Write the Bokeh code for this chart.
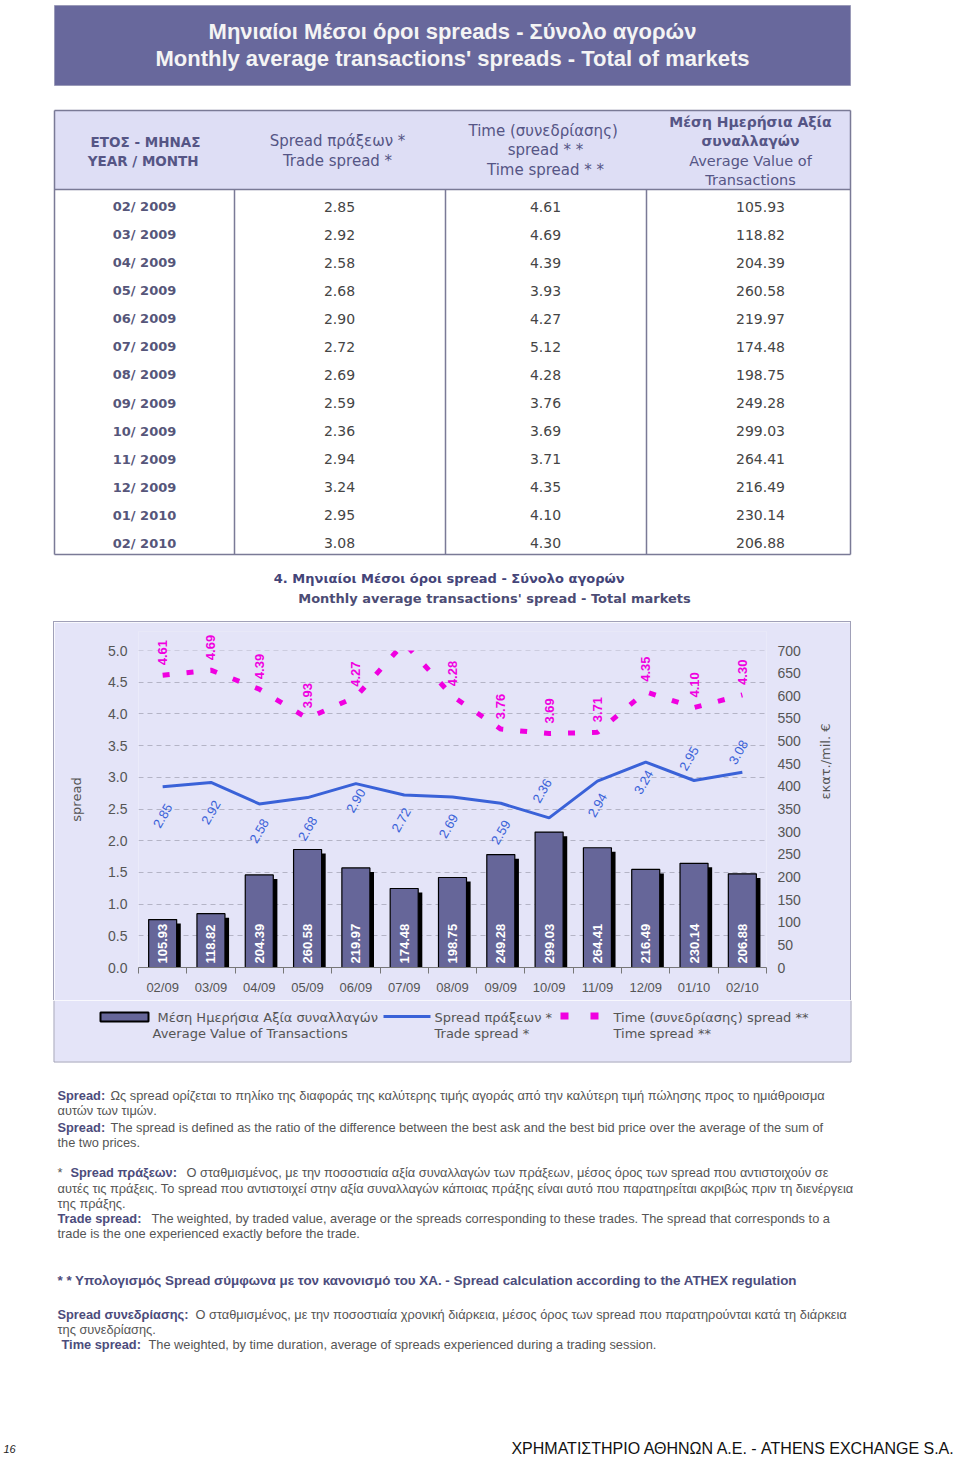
import math
from bokeh.plotting import figure
from bokeh.models import (Range1d, LinearAxis, ColumnDataSource, LabelSet, FixedTicker,
                          SingleIntervalTicker, NumeralTickFormatter, Spacer, BoxAnnotation)
from bokeh.layouts import column, row
from bokeh.transform import dodge
from bokeh.core.properties import value
from bokeh.embed import file_html
from bokeh.resources import INLINE

# ---------------- data ----------------
periods = ["02/ 2009", "03/ 2009", "04/ 2009", "05/ 2009", "06/ 2009", "07/ 2009", "08/ 2009",
           "09/ 2009", "10/ 2009", "11/ 2009", "12/ 2009", "01/ 2010", "02/ 2010"]
month_labels = ["02/09", "03/09", "04/09", "05/09", "06/09", "07/09", "08/09",
                "09/09", "10/09", "11/09", "12/09", "01/10", "02/10"]
trade_spread = [2.85, 2.92, 2.58, 2.68, 2.90, 2.72, 2.69, 2.59, 2.36, 2.94, 3.24, 2.95, 3.08]
time_spread = [4.61, 4.69, 4.39, 3.93, 4.27, 5.12, 4.28, 3.76, 3.69, 3.71, 4.35, 4.10, 4.30]
avg_value = [105.93, 118.82, 204.39, 260.58, 219.97, 174.48, 198.75, 249.28, 299.03,
             264.41, 216.49, 230.14, 206.88]

# label placement (style only, pixels)
trade_lbl_dx = [0, 0, 0, 0, 0, -3, -4, 0, -7, 0, -2, -5, -4]
trade_lbl_dy = [-29, -30, -27, -31, -17, -25, -29, -29, 27, -24, -20, 22, 20]

# ---------------- styles ----------------
LAV = "#e4e4f8"
BAR = "#666699"
NAVY = "#555585"
BLUE = "#3a62d8"
MAG = "#f000e0"
GRAY = "#555555"
PANEL_LINE = "#a0a0b8"


def put(p, x, y, s, size=13, color=GRAY, font="DejaVu Sans", style="normal",
        align="left", baseline="middle"):
    p.text(x=[x], y=[y], text=[s], text_font=value(font), text_font_size=f"{size}px",
           text_color=color, text_font_style=style, text_align=align,
           text_baseline=baseline)


def pixel_fig(w, h, x0, x1, ytop, ybot, bg="white"):
    f = figure(width=w, height=h, x_range=Range1d(x0, x1), y_range=Range1d(ybot, ytop),
               x_axis_type=None, y_axis_type=None, min_border=0, outline_line_color=None,
               background_fill_color=bg, border_fill_color=bg,
               output_backend="svg", toolbar_location=None)
    return f


# ---------------- top: banner + table + chart title ----------------
top = pixel_fig(960, 621, 0, 960, 0, 621)
top.quad(left=54, right=850, top=5, bottom=85, fill_color="#68689c", line_color="#9a9ab8")
put(top, 452, 31, "Μηνιαίοι Μέσοι όροι spreads - Σύνολο αγορών", 22, "#f4f4f4",
    "Liberation Sans", "bold", "center")
put(top, 452, 58, "Monthly average transactions' spreads - Total of markets", 22, "#f4f4f4",
    "Liberation Sans", "bold", "center")

# table
TL = "#7a7a96"
top.quad(left=54, right=850, top=110, bottom=189, fill_color="#dedef5", line_color=None)
top.segment(x0=[54, 54, 54, 54, 850], y0=[110, 189, 554, 110, 110],
            x1=[850, 850, 850, 54, 850], y1=[110, 189, 554, 554, 554],
            line_color=TL, line_width=1.5)
top.segment(x0=[234, 445, 646], y0=[189] * 3, x1=[234, 445, 646], y1=[554] * 3,
            line_color=TL, line_width=1.5)

put(top, 145, 141, "ΕΤΟΣ - ΜΗΝΑΣ", 13.5, NAVY, style="bold", align="center")
put(top, 145, 160, "YEAR /  MONTH", 13.5, NAVY, style="bold", align="center")
put(top, 337, 140, "Spread πράξεων *", 15, NAVY, align="center")
put(top, 337, 160, "Trade spread *", 15, NAVY, align="center")
put(top, 545, 130, "Time  (συνεδρίασης)", 15, NAVY, align="center")
put(top, 545, 149, "spread * *", 15, NAVY, align="center")
put(top, 545, 169, "Time spread * *", 15, NAVY, align="center")
put(top, 750, 121, "Μέση Ημερήσια Αξία", 14, NAVY, style="bold", align="center")
put(top, 750, 140, "συναλλαγών", 14, NAVY, style="bold", align="center")
put(top, 750, 160, "Average Value of", 14.5, NAVY, align="center")
put(top, 750, 179, "Transactions", 14.5, NAVY, align="center")

row_y = [206 + 28.08 * i for i in range(len(periods))]
tsrc = ColumnDataSource(dict(
    y=row_y, per=periods,
    tr=[f"{v:.2f}" for v in trade_spread],
    ti=[f"{v:.2f}" for v in time_spread],
    av=[f"{v:.2f}" for v in avg_value],
    x1=[144] * len(periods), x2=[339] * len(periods), x3=[545] * len(periods),
    x4=[760] * len(periods)))
top.text(x="x1", y="y", text="per", source=tsrc, text_font=value("DejaVu Sans"),
         text_font_size="13px", text_font_style="bold", text_color="#56567a",
         text_align="center", text_baseline="middle")
for xc, col in (("x2", "tr"), ("x3", "ti"), ("x4", "av")):
    top.text(x=xc, y="y", text=col, source=tsrc, text_font=value("DejaVu Sans"),
             text_font_size="14px", text_color="#454545",
             text_align="center", text_baseline="middle")

put(top, 451, 578, "4.  Μηνιαίοι Μέσοι όροι spread - Σύνολο αγορών", 13, "#444478",
    style="bold", align="center")
put(top, 494, 598, "Monthly average transactions' spread - Total markets", 13, "#4c4c74",
    style="bold", align="center")

# ---------------- chart ----------------
n = len(month_labels)
xs = [i + 0.5 for i in range(n)]
src = ColumnDataSource(dict(
    x=xs, trade=trade_spread, time=time_spread, val=avg_value,
    shadow_top=[v - 9 for v in avg_value], zero=[0] * n,
    val_lbl=[f"{v:.2f}" for v in avg_value],
    trade_lbl=[f"{v:.2f}" for v in trade_spread],
    tdx=trade_lbl_dx, tdy=trade_lbl_dy))

SPREAD_MAX = 5.0          # top of the spread scale (last gridline)
Y_TOP = 5.3               # headroom above the scale for the value labels
c = figure(width=796, height=378, x_range=Range1d(0, n), y_range=Range1d(0, Y_TOP),
           min_border_left=84, min_border_right=84, min_border_top=9, min_border_bottom=33,
           background_fill_color=LAV, border_fill_color=LAV, outline_line_color=None,
           output_backend="svg", toolbar_location=None)
c.extra_y_ranges = {"val": Range1d(0, 700 * Y_TOP / SPREAD_MAX)}

c.xgrid.visible = False
c.ygrid.grid_line_color = "#b4b4c6"
c.ygrid.grid_line_dash = "5 4"

ya = c.yaxis[0]
ya.ticker = SingleIntervalTicker(interval=0.5, num_minor_ticks=0)
ya.formatter = NumeralTickFormatter(format="0.0")
ya.axis_line_color = None
ya.major_tick_line_color = None
ya.minor_tick_line_color = None
ya.major_tick_out = 0
ya.major_label_standoff = 11
ya.major_label_text_font = "Liberation Sans"
ya.major_label_text_font_size = "14px"
ya.major_label_text_color = GRAY
ya.axis_label = "spread"
ya.axis_label_standoff = 21
ya.axis_label_text_font = "DejaVu Sans"
ya.axis_label_text_font_size = "13px"
ya.axis_label_text_font_style = "normal"
ya.axis_label_text_color = GRAY

ra = LinearAxis(y_range_name="val",
                ticker=SingleIntervalTicker(interval=50, num_minor_ticks=0),
                formatter=NumeralTickFormatter(format="0"))
ra.axis_line_color = None
ra.major_tick_line_color = None
ra.minor_tick_line_color = None
ra.major_tick_out = 0
ra.major_label_standoff = 11
ra.major_label_text_font = "Liberation Sans"
ra.major_label_text_font_size = "14px"
ra.major_label_text_color = GRAY
ra.axis_label = "εκατ./mil. €"
ra.axis_label_standoff = 22
ra.axis_label_orientation = math.pi / 2
ra.axis_label_text_font = "DejaVu Sans"
ra.axis_label_text_font_size = "13px"
ra.axis_label_text_font_style = "normal"
ra.axis_label_text_color = GRAY
c.add_layout(ra, "right")

xa = c.xaxis[0]
xa.ticker = FixedTicker(ticks=xs, minor_ticks=list(range(n + 1)))
xa.major_label_overrides = {x: lab for x, lab in zip(xs, month_labels)}
xa.major_tick_line_color = None
xa.major_tick_out = 5
xa.minor_tick_in = 0
xa.minor_tick_out = 6
xa.minor_tick_line_color = "#777777"
xa.axis_line_color = "#777777"
xa.major_label_standoff = 6
xa.major_label_text_font = "Liberation Sans"
xa.major_label_text_font_size = "13px"
xa.major_label_text_color = GRAY

# bars with shadow
c.vbar(x=dodge("x", 0.085), top="shadow_top", width=0.58, y_range_name="val",
       fill_color="black", line_color=None, source=src)
c.vbar(x="x", top="val", width=0.58, y_range_name="val", fill_color=BAR,
       line_color="black", line_width=1.2, source=src)

# lines
c.line("x", "trade", source=src, line_color=BLUE, line_width=3)
c.line("x", "time", source=src, line_color=MAG, line_width=5, line_dash="7 17")

# the plot area ends at the top of the scale: mask the headroom strip
c.add_layout(BoxAnnotation(bottom=SPREAD_MAX, fill_color=LAV, fill_alpha=1.0,
                           line_color=None))

# labels
c.add_layout(LabelSet(x="x", y="zero", text="val_lbl", source=src, y_range_name="val",
                      angle=math.pi / 2, text_align="left", text_baseline="middle",
                      y_offset=4, text_color="white", text_font=value("Liberation Sans"),
                      text_font_style="bold", text_font_size="13px"))
c.add_layout(LabelSet(x="x", y="trade", text="trade_lbl", source=src,
                      angle=math.pi / 3, text_align="center", text_baseline="middle",
                      x_offset="tdx", y_offset="tdy", text_color=BLUE,
                      text_font=value("Liberation Sans"), text_font_size="13px"))
vis = [i for i, v in enumerate(time_spread) if v <= SPREAD_MAX]
tsrc2 = ColumnDataSource(dict(x=[xs[i] for i in vis], y=[time_spread[i] for i in vis],
                              lbl=[f"{time_spread[i]:.2f}" for i in vis]))
c.add_layout(LabelSet(x="x", y="y", text="lbl", source=tsrc2,
                      angle=math.pi / 2, text_align="left", text_baseline="middle",
                      y_offset=10, text_color=MAG, text_font=value("Liberation Sans"),
                      text_font_style="bold", text_font_size="13px"))

panel = column(c, spacing=0, styles={"border": f"1px solid {PANEL_LINE}",
                                     "border-bottom": "none"})

# ---------------- bottom: legend strip of the panel + footnotes ----------------
bt = pixel_fig(960, 462, 0, 960, 1000, 1462)
bt.quad(left=54, right=850, top=1000, bottom=1061, fill_color=LAV, line_color=None)
bt.segment(x0=[53.5, 850.5, 53.5], y0=[1000, 1000, 1061.5],
           x1=[53.5, 850.5, 850.5], y1=[1061.5, 1061.5, 1061.5],
           line_color=PANEL_LINE, line_width=1)

bt.quad(left=100, right=148, top=1012, bottom=1021, fill_color=BAR, line_color="black",
        line_width=2)
put(bt, 157, 1017, "Μέση Ημερήσια Αξία συναλλαγών", 13, GRAY)
put(bt, 152, 1033, "Average Value of Transactions", 13, GRAY)
bt.segment(x0=[383], y0=[1016], x1=[430], y1=[1016], line_color=BLUE, line_width=3)
put(bt, 434, 1017, "Spread πράξεων *", 13, GRAY)
put(bt, 434, 1033, "Trade spread *", 13, GRAY)
bt.quad(left=[560, 590], right=[568, 598], top=[1012, 1012], bottom=[1019, 1019],
        fill_color=MAG, line_color=None)
put(bt, 613, 1017, "Time  (συνεδρίασης) spread **", 13, GRAY)
put(bt, 613, 1033, "Time spread **", 13, GRAY)

FN = "Liberation Sans"
FS = 12.8
BN = "#4c4c7c"
put(bt, 57, 1095, "Spread:", FS, BN, FN, "bold")
put(bt, 110, 1095, "Ως spread ορίζεται το πηλίκο της διαφοράς της καλύτερης τιμής αγοράς από την "
    "καλύτερη τιμή πώλησης προς το ημιάθροισμα", FS, GRAY, FN)
put(bt, 57, 1110, "αυτών των τιμών.", FS, GRAY, FN)
put(bt, 57, 1127, "Spread:", FS, BN, FN, "bold")
put(bt, 110, 1127, "The spread is defined as the ratio of the difference between the best ask and "
    "the best bid price over the average of the sum of", FS, GRAY, FN)
put(bt, 57, 1142, "the two prices.", FS, GRAY, FN)
put(bt, 57, 1172, "*", FS, GRAY, FN)
put(bt, 70, 1172, "Spread πράξεων:", FS, BN, FN, "bold")
put(bt, 186, 1172, "Ο σταθμισμένος, με την ποσοστιαία αξία συναλλαγών των πράξεων, μέσος όρος "
    "των spread που αντιστοιχούν σε", FS, GRAY, FN)
put(bt, 57, 1188, "αυτές τις πράξεις. Το spread που αντιστοιχεί στην αξία συναλλαγών κάποιας "
    "πράξης είναι αυτό που παρατηρείται ακριβώς πριν τη διενέργεια", FS, GRAY, FN)
put(bt, 57, 1203, "της πράξης.", FS, GRAY, FN)
put(bt, 57, 1218, "Trade spread:", FS, BN, FN, "bold")
put(bt, 151, 1218, "The weighted, by traded value, average or the spreads corresponding to these "
    "trades. The spread that corresponds to a", FS, GRAY, FN)
put(bt, 57, 1233, "trade is the one experienced exactly before the trade.", FS, GRAY, FN)
put(bt, 57, 1280, "* *  Υπολογισμός Spread σύμφωνα με τον κανονισμό  του ΧΑ. - Spread calculation "
    "according to the ATHEX regulation", 13.4, BN, FN, "bold")
put(bt, 57, 1314, "Spread συνεδρίασης:", FS, BN, FN, "bold")
put(bt, 195, 1314, "Ο σταθμισμένος, με την ποσοστιαία χρονική διάρκεια, μέσος όρος των spread "
    "που παρατηρούνται κατά τη διάρκεια", FS, GRAY, FN)
put(bt, 57, 1329, "της συνεδρίασης.", FS, GRAY, FN)
put(bt, 61, 1344, "Time spread:", FS, BN, FN, "bold")
put(bt, 148, 1344, "The weighted, by time duration, average of spreads experienced during a "
    "trading session.", FS, GRAY, FN)
put(bt, 3, 1448, "16", 11, "#222222", FN, "italic")
put(bt, 955, 1448, "ΧΡΗΜΑΤΙΣΤΗΡΙΟ ΑΘΗΝΩΝ Α.Ε. - ATHENS EXCHANGE S.A.", 16, "#111111", FN,
    align="right")

layout = column(top, row(Spacer(width=53, height=379), panel, Spacer(width=109, height=379),
                         spacing=0), bt, spacing=0)

open("out.html", "w").write(file_html(layout, INLINE))
